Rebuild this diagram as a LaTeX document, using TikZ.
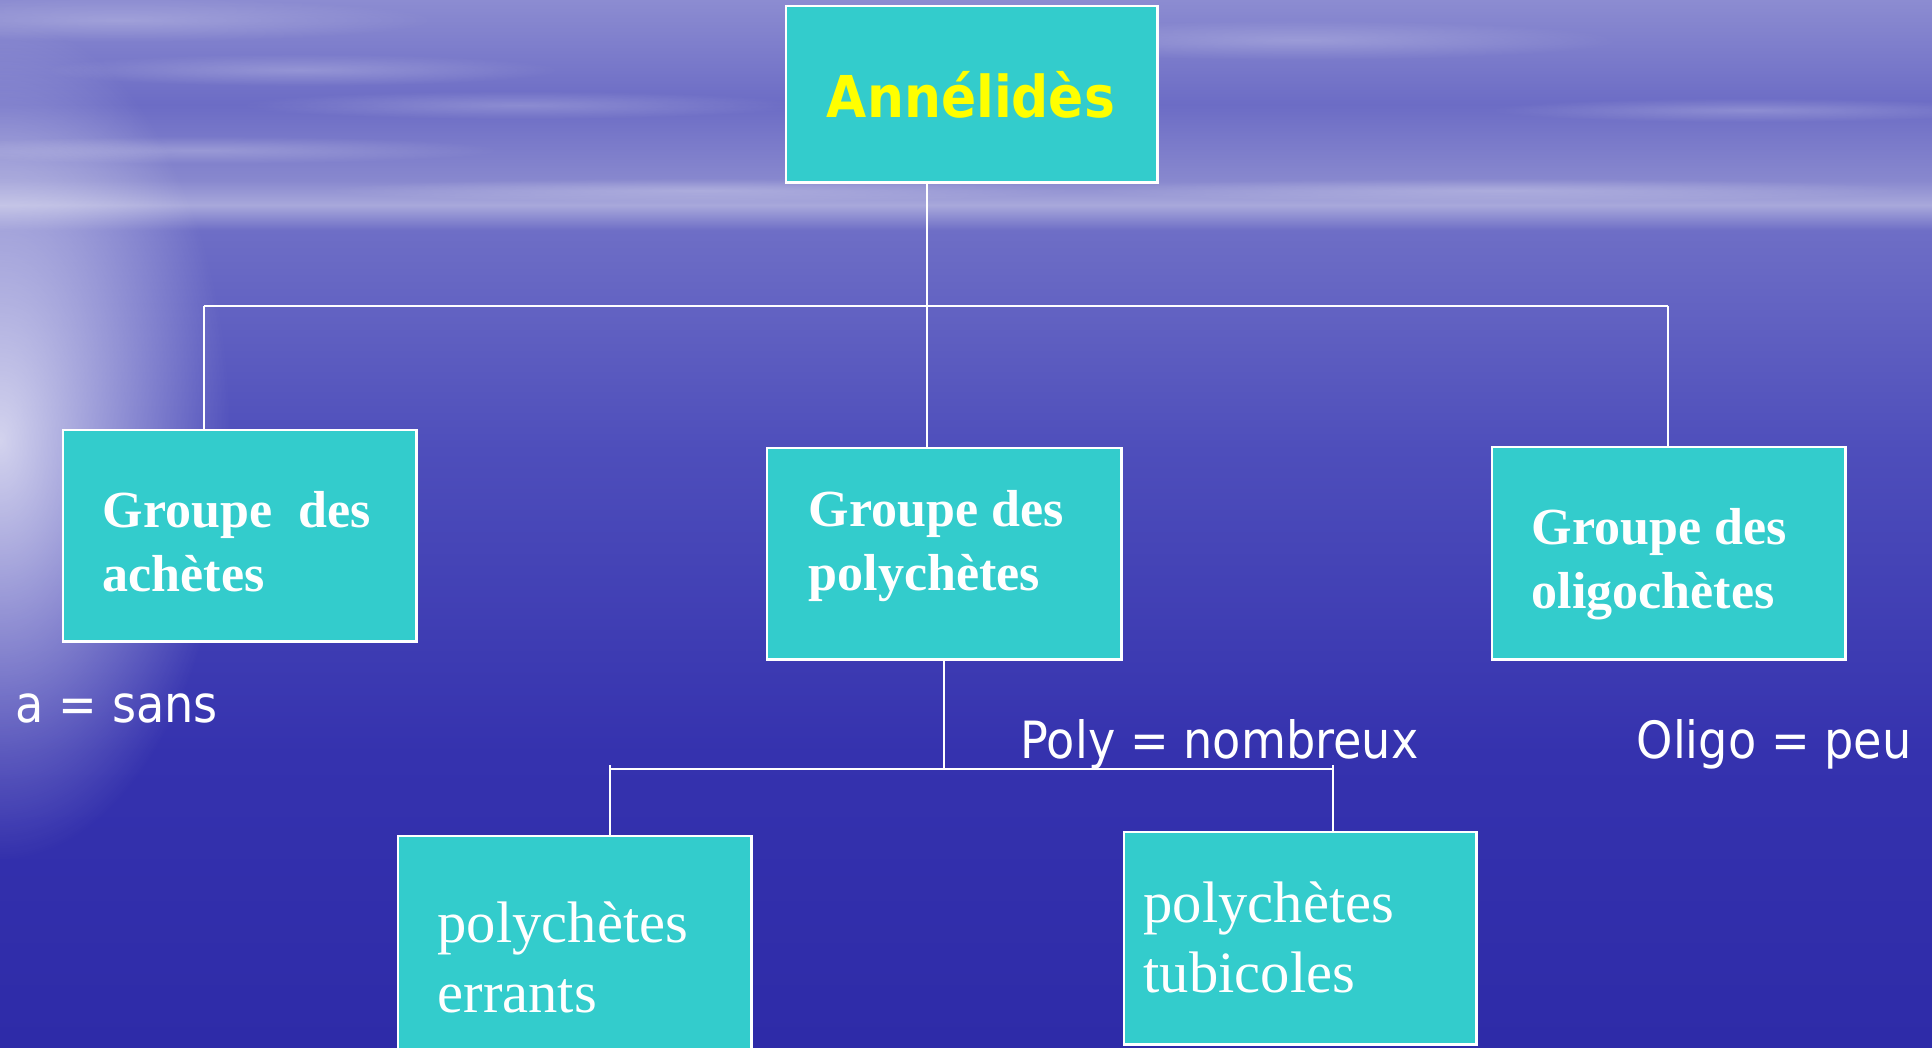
\documentclass[tikz,border=0pt]{standalone}
\usepackage{fontspec}
\setmainfont{Liberation Serif}
\newfontfamily\notefont{DejaVu Sans}[FakeStretch=0.9]
\usetikzlibrary{positioning,fadings}

\definecolor{boxteal}{HTML}{33CCCC}
\definecolor{titleyellow}{HTML}{FFFF00}
\definecolor{sea4}{HTML}{2E2BA8}
\definecolor{sea3}{HTML}{3532AE}
\definecolor{sea2}{HTML}{4E4EBB}
\definecolor{sea1}{HTML}{6E6EC6}
\definecolor{horizon}{HTML}{A8A8DB}
\definecolor{sky1}{HTML}{8888CE}
\definecolor{sky2}{HTML}{6C6CC5}
\definecolor{sky3}{HTML}{8C8CD1}

\pgfdeclareverticalshading{seasky}{100bp}{color(0bp)=(sea4); color(25bp)=(sea4); color(39bp)=(sea3); color(53.5bp)=(sea2); color(64bp)=(sea1); color(65.2bp)=(horizon); color(66.4bp)=(sky1); color(70bp)=(sky2); color(75bp)=(sky3); color(100bp)=(sky3)}
\tikzfading[name=glow, inner color=transparent!25, outer color=transparent!100]
\tikzfading[name=streak, inner color=transparent!78, outer color=transparent!100]

\tikzset{
    box/.style={draw=white, fill=boxteal, line width=0.8pt, inner sep=0pt, outer sep=0pt, anchor=north west},
    link/.style={draw=white, line width=0.6pt},
    grouplabel/.style={anchor=base west, inner sep=0pt, align=left, text=white, font=\fontsize{14.8}{18.2}\selectfont\bfseries},
    leaflabel/.style={anchor=base west, inner sep=0pt, align=left, text=white, font=\fontsize{16.65}{19.9}\selectfont},
    note/.style={anchor=base west, inner sep=0pt, text=white, font=\notefont\fontsize{14.6}{17}\selectfont},
}

\begin{document}
\begin{tikzpicture}[x=0.01cm, y=-0.01cm]
        \useasboundingbox (0,0) rectangle (1932,1047);
        % background: sky and sea
        \shade[shading=seasky] (0,0) rectangle (1932,1047);
        \fill[white, path fading=glow] (0,440) ellipse [x radius=230, y radius=420];
        \foreach \cx/\cy/\rx/\ry in {120/20/320/22, 300/70/260/16, 520/105/280/14, 200/150/300/14,
                                     700/190/380/12, 1300/40/320/20, 1500/190/420/12, 1750/110/260/12}
            \fill[white, path fading=streak] (\cx,\cy) ellipse [x radius=\rx, y radius=\ry];

        \node[box, minimum width=3.71cm, minimum height=1.76cm] (anne) at (786,6) {};
        \node[anchor=base, inner sep=0pt, text=titleyellow, font=\notefont\bfseries\fontsize{16.4}{19}\selectfont] (anneT) at (971,117) {Annélidès};

        \node[box, minimum width=3.53cm, minimum height=2.11cm] (ache) at (63,430) {};
        \node[box, minimum width=3.54cm, minimum height=2.11cm] (poly) at (767,448) {};
        \node[box, minimum width=3.53cm, minimum height=2.12cm] (oligo) at (1492,447) {};
        \node[box, minimum width=3.53cm, minimum height=2.30cm] (errants) at (398,836) {};
        \node[box, minimum width=3.52cm, minimum height=2.12cm] (tubi) at (1124,832) {};

        \node[grouplabel] (acheT) at (102,591) {Groupe\hspace{0.25em} des\\achètes};
        \node[grouplabel] (polyT) at (808,590) {Groupe des\\polychètes};
        \node[grouplabel] (oligoT) at (1531,608) {Groupe des\\oligochètes};
        \node[leaflabel] (errantsT) at (437,1012) {polychètes\\errants};
        \node[leaflabel] (tubiT) at (1143,992) {polychètes\\tubicoles};

        \node[note] (sansN) at (15,722) {a = sans};
        \node[note] (polyN) at (1020,758) {Poly = nombreux};
        \node[note] (oligoN) at (1636,758) {Oligo = peu};

        \coordinate (jA) at (204,306);
        \coordinate (jP) at (927,306);
        \coordinate (jO) at (1668,306);
        \coordinate (jE) at (610,769);
        \coordinate (jT) at (1333,769);

        \draw[link] (anne.south -| jP) -- (jP);
        \draw[link] (jA) -- (jO);
        \draw[link] (jA) -- (jA |- ache.north);
        \draw[link] (jP) -- (jP |- poly.north);
        \draw[link] (jO) -- (jO |- oligo.north);
        \draw[link] (poly.south) -- (poly.south |- jE);
        \draw[link] (jE) -- (jT);
        \draw[link] ([yshift=0.04cm]jE) -- (jE |- errants.north);
        \draw[link] ([yshift=0.04cm]jT) -- (jT |- tubi.north);
    \end{tikzpicture}
\end{document}
